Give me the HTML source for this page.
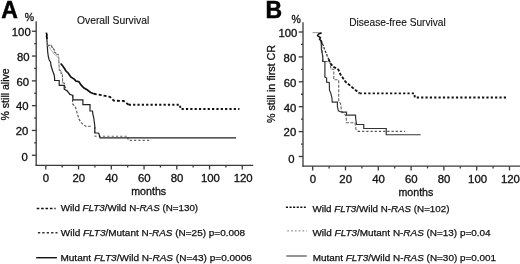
<!DOCTYPE html>
<html><head><meta charset="utf-8"><title>Survival curves</title>
<style>
html,body{margin:0;padding:0;background:#fff;}
body{width:520px;height:264px;overflow:hidden;}
svg{display:block;will-change:transform;}
text{font-family:"Liberation Sans",sans-serif;fill:#111;stroke:#111;stroke-width:0.3;}
.big{font-size:23px;font-weight:bold;fill:#000;stroke:#000;stroke-width:0.5;}
.pc{font-size:10.5px;}
.ttl{font-size:11px;stroke-width:0.12;}
.yl{font-size:10.5px;}
.tk{font-size:10.6px;}
.lg{font-size:9.3px;stroke:#111;stroke-width:0.25;}
.ax{stroke:#3a3a3a;stroke-width:1.3;fill:none;}
.c{fill:none;stroke-linejoin:miter;}
</style></head>
<body>
<svg width="520" height="264" viewBox="0 0 520 264">
<text x="1.3" y="17.9" class="big">A</text>
<text x="265.6" y="18.2" class="big">B</text>
<text x="24.8" y="21.3" class="pc">%</text>
<text x="291.6" y="22.6" class="pc">%</text>
<text x="77" y="24.2" class="ttl" textLength="72.2" lengthAdjust="spacingAndGlyphs">Overall Survival</text>
<text x="349.2" y="26" class="ttl" textLength="96.6" lengthAdjust="spacingAndGlyphs">Disease-free Survival</text>
<text transform="translate(9.1,94.4) rotate(-90)" class="yl" text-anchor="middle" textLength="52" lengthAdjust="spacingAndGlyphs">% still alive</text>
<text transform="translate(275.4,84) rotate(-90)" class="yl" text-anchor="middle" textLength="78" lengthAdjust="spacingAndGlyphs">% still in first CR</text>
<line x1="36.2" y1="21.2" x2="36.2" y2="165.9" class="ax"/>
<line x1="35.6" y1="165.3" x2="253.2" y2="165.3" class="ax"/>
<line x1="31.9" y1="31.25" x2="36.2" y2="31.25" class="ax"/>
<text x="30.7" y="36.05" class="tk" text-anchor="end" textLength="18.9" lengthAdjust="spacingAndGlyphs">100</text>
<line x1="34.2" y1="43.65" x2="36.2" y2="43.65" class="ax"/>
<line x1="31.9" y1="56.05" x2="36.2" y2="56.05" class="ax"/>
<text x="29.6" y="60.85" class="tk" text-anchor="end" textLength="12.6" lengthAdjust="spacingAndGlyphs">80</text>
<line x1="34.2" y1="68.45" x2="36.2" y2="68.45" class="ax"/>
<line x1="31.9" y1="80.85" x2="36.2" y2="80.85" class="ax"/>
<text x="29" y="85.65" class="tk" text-anchor="end" textLength="12.6" lengthAdjust="spacingAndGlyphs">60</text>
<line x1="34.2" y1="93.25" x2="36.2" y2="93.25" class="ax"/>
<line x1="31.9" y1="105.65" x2="36.2" y2="105.65" class="ax"/>
<text x="28.6" y="110.45" class="tk" text-anchor="end" textLength="12.6" lengthAdjust="spacingAndGlyphs">40</text>
<line x1="34.2" y1="118.05" x2="36.2" y2="118.05" class="ax"/>
<line x1="31.9" y1="130.45" x2="36.2" y2="130.45" class="ax"/>
<text x="28.4" y="135.25" class="tk" text-anchor="end" textLength="12.6" lengthAdjust="spacingAndGlyphs">20</text>
<line x1="34.2" y1="142.85" x2="36.2" y2="142.85" class="ax"/>
<line x1="31.9" y1="155.25" x2="36.2" y2="155.25" class="ax"/>
<text x="27.9" y="161.35" class="tk" text-anchor="end" textLength="6.3" lengthAdjust="spacingAndGlyphs">0</text>
<line x1="45.8" y1="165.3" x2="45.8" y2="169.5" class="ax"/>
<text x="46" y="181.9" class="tk" text-anchor="middle" textLength="6.35" lengthAdjust="spacingAndGlyphs">0</text>
<line x1="62.17" y1="165.3" x2="62.17" y2="167.5" class="ax"/>
<line x1="78.55" y1="165.3" x2="78.55" y2="169.5" class="ax"/>
<text x="78.75" y="181.9" class="tk" text-anchor="middle" textLength="12.7" lengthAdjust="spacingAndGlyphs">20</text>
<line x1="94.92" y1="165.3" x2="94.92" y2="167.5" class="ax"/>
<line x1="111.3" y1="165.3" x2="111.3" y2="169.5" class="ax"/>
<text x="111.5" y="181.9" class="tk" text-anchor="middle" textLength="12.7" lengthAdjust="spacingAndGlyphs">40</text>
<line x1="127.67" y1="165.3" x2="127.67" y2="167.5" class="ax"/>
<line x1="144.05" y1="165.3" x2="144.05" y2="169.5" class="ax"/>
<text x="144.25" y="181.9" class="tk" text-anchor="middle" textLength="12.7" lengthAdjust="spacingAndGlyphs">60</text>
<line x1="160.43" y1="165.3" x2="160.43" y2="167.5" class="ax"/>
<line x1="176.8" y1="165.3" x2="176.8" y2="169.5" class="ax"/>
<text x="177" y="181.9" class="tk" text-anchor="middle" textLength="12.7" lengthAdjust="spacingAndGlyphs">80</text>
<line x1="193.18" y1="165.3" x2="193.18" y2="167.5" class="ax"/>
<line x1="209.55" y1="165.3" x2="209.55" y2="169.5" class="ax"/>
<text x="210.45" y="181.9" class="tk" text-anchor="middle" textLength="19.05" lengthAdjust="spacingAndGlyphs">100</text>
<line x1="225.93" y1="165.3" x2="225.93" y2="167.5" class="ax"/>
<line x1="242.3" y1="165.3" x2="242.3" y2="169.5" class="ax"/>
<text x="243.2" y="181.9" class="tk" text-anchor="middle" textLength="19.05" lengthAdjust="spacingAndGlyphs">120</text>
<line x1="303" y1="22.2" x2="303" y2="166.8" class="ax"/>
<line x1="302.4" y1="166.2" x2="521" y2="166.2" class="ax"/>
<line x1="298.7" y1="32" x2="303" y2="32" class="ax"/>
<text x="297.3" y="36.8" class="tk" text-anchor="end" textLength="18.9" lengthAdjust="spacingAndGlyphs">100</text>
<line x1="301" y1="44.45" x2="303" y2="44.45" class="ax"/>
<line x1="298.7" y1="56.9" x2="303" y2="56.9" class="ax"/>
<text x="296.2" y="61.7" class="tk" text-anchor="end" textLength="12.6" lengthAdjust="spacingAndGlyphs">80</text>
<line x1="301" y1="69.35" x2="303" y2="69.35" class="ax"/>
<line x1="298.7" y1="81.8" x2="303" y2="81.8" class="ax"/>
<text x="296.4" y="86.6" class="tk" text-anchor="end" textLength="12.6" lengthAdjust="spacingAndGlyphs">60</text>
<line x1="301" y1="94.25" x2="303" y2="94.25" class="ax"/>
<line x1="298.7" y1="106.7" x2="303" y2="106.7" class="ax"/>
<text x="296.4" y="111.5" class="tk" text-anchor="end" textLength="12.6" lengthAdjust="spacingAndGlyphs">40</text>
<line x1="301" y1="119.15" x2="303" y2="119.15" class="ax"/>
<line x1="298.7" y1="131.6" x2="303" y2="131.6" class="ax"/>
<text x="296.2" y="136.4" class="tk" text-anchor="end" textLength="12.6" lengthAdjust="spacingAndGlyphs">20</text>
<line x1="301" y1="144.05" x2="303" y2="144.05" class="ax"/>
<line x1="298.7" y1="156.5" x2="303" y2="156.5" class="ax"/>
<text x="294.5" y="162.6" class="tk" text-anchor="end" textLength="6.3" lengthAdjust="spacingAndGlyphs">0</text>
<line x1="312.7" y1="166.2" x2="312.7" y2="170.4" class="ax"/>
<text x="312.9" y="182.8" class="tk" text-anchor="middle" textLength="6.35" lengthAdjust="spacingAndGlyphs">0</text>
<line x1="329.1" y1="166.2" x2="329.1" y2="168.4" class="ax"/>
<line x1="345.5" y1="166.2" x2="345.5" y2="170.4" class="ax"/>
<text x="345.7" y="182.8" class="tk" text-anchor="middle" textLength="12.7" lengthAdjust="spacingAndGlyphs">20</text>
<line x1="361.9" y1="166.2" x2="361.9" y2="168.4" class="ax"/>
<line x1="378.3" y1="166.2" x2="378.3" y2="170.4" class="ax"/>
<text x="378.5" y="182.8" class="tk" text-anchor="middle" textLength="12.7" lengthAdjust="spacingAndGlyphs">40</text>
<line x1="394.7" y1="166.2" x2="394.7" y2="168.4" class="ax"/>
<line x1="411.1" y1="166.2" x2="411.1" y2="170.4" class="ax"/>
<text x="411.3" y="182.8" class="tk" text-anchor="middle" textLength="12.7" lengthAdjust="spacingAndGlyphs">60</text>
<line x1="427.5" y1="166.2" x2="427.5" y2="168.4" class="ax"/>
<line x1="443.9" y1="166.2" x2="443.9" y2="170.4" class="ax"/>
<text x="444.1" y="182.8" class="tk" text-anchor="middle" textLength="12.7" lengthAdjust="spacingAndGlyphs">80</text>
<line x1="460.3" y1="166.2" x2="460.3" y2="168.4" class="ax"/>
<line x1="476.7" y1="166.2" x2="476.7" y2="170.4" class="ax"/>
<text x="477.6" y="182.8" class="tk" text-anchor="middle" textLength="19.05" lengthAdjust="spacingAndGlyphs">100</text>
<line x1="493.1" y1="166.2" x2="493.1" y2="168.4" class="ax"/>
<line x1="509.5" y1="166.2" x2="509.5" y2="170.4" class="ax"/>
<text x="510.4" y="182.8" class="tk" text-anchor="middle" textLength="19.05" lengthAdjust="spacingAndGlyphs">120</text>
<text x="131.2" y="194.7" class="tk" textLength="35" lengthAdjust="spacingAndGlyphs">months</text>
<text x="398.4" y="195.8" class="tk" textLength="35" lengthAdjust="spacingAndGlyphs">months</text>
<path d="M47.3,45.4 L51.5,45.4 L51.8,47.2 L53.2,47.4 L53.5,49.2 L54.3,49.4 L54.3,52.3 L55.6,52.5 L55.8,54.2 L58.2,54.4 L58.4,57.5 L58.8,57.7 L58.8,61.8 L59.1,66 L59.3,70.2 L60.9,70.4 L61,73.2 L62.3,73.4 L62.5,77.2 L62.6,82.9 L64.5,83.2 L64.6,86" class="c" stroke="#666" stroke-width="1.1" stroke-dasharray="3.2 0.9"/>
<path d="M64.6,86 L67.4,91.1 L69.8,94.2 L72.6,95.4 L72.6,99.9 L72.5,103.7 L75.5,107.4 L76.5,110.5 L77.7,115 L78.9,118.9 L81.1,122.6 L85.7,126.2 L91.2,126.2" class="c" stroke="#555" stroke-width="1.15" stroke-dasharray="2.6 1.6"/>
<path d="M94.9,127 L95,136.2 L127.5,136.2 L128.3,140.3 L151.4,140.3" class="c" stroke="#666" stroke-width="1.15" stroke-dasharray="2.2 2.1"/>
<path d="M46.5,33 L47.3,46 L47.7,52 L48.3,56.3 L49.2,60 L50.5,62 L51.1,66 L52.6,70.8 L54.2,75 L54.6,78 L54.6,80.5 L59.2,80.5 L59.2,85.4 L64.2,85.4 L64.2,89.1 L67.4,91.1 L69.8,94.2 L72.9,95.4 L72.9,99.9 L82.9,99.9 L82.9,104.6 L90,104.6 L90,111 L92.5,111 L92.8,114 L93.7,117.7 L94.3,122 L94.8,126 L94.8,132.8 L98.8,133.2 L100,137.8 L236,137.8" class="c" stroke="#222" stroke-width="1.2"/>
<path d="M47.3,45.4 L49,47 L51.5,50.5 L53.5,53.5 L55.5,55.2 L57.5,56.5 L58.6,58 L59,62 L60.6,63.6" class="c" stroke="#aaa" stroke-width="0.9"/>
<path d="M60.6,63.6 L61.5,64.3 L64,67.7 L65.8,70.8 L68.3,73.2 L70.8,76.9 L74.5,79.4 L75.8,81.1 L78.9,81.7 L81.4,85.4 L84,88 L87.1,89.8 L90.6,92.5 L93.75,93.75" class="c" stroke="#111" stroke-width="1.7"/>
<path d="M93.75,93.75 L99.8,94.8 L103.75,95.6 L110,96.9 L113.75,100.6 L123.75,101 L128.75,104.8" class="c" stroke="#111" stroke-width="1.8" stroke-dasharray="3 2"/>
<path d="M128.75,104.8 L180,104.8 L180.5,109 L239.4,109" class="c" stroke="#111" stroke-width="1.9" stroke-dasharray="2.2 2.15"/>
<path d="M46.3,32.6 L46.9,35 L46.5,36.5 L47.2,39" class="c" stroke="#000" stroke-width="1.6"/>
<path d="M321.2,41 L322.5,56 L322.8,61.5 L329.8,61.5 L331,69.2 L333.8,69.2 L333.8,79.8 L338.7,79.8 L338.7,101.5 L340.6,103.5 L341.5,111.2 L346.3,116 L346.3,122.7 L355,122.7 L356,129.4 L357.9,131.3" class="c" stroke="#666" stroke-width="1.1" stroke-dasharray="3 1.5"/>
<path d="M357.9,131.3 L405,131.3" class="c" stroke="#555" stroke-width="1.2" stroke-dasharray="2.2 2"/>
<path d="M321.2,41 L321.4,49.4 L322.8,56 L322.8,61.5 L324.9,61.5 L324.9,77.1 L326.6,78 L326.6,82.2 L329.3,82.5 L329.5,90.2 L330.8,93.2 L332,98.2 L332.2,102.2 L337.4,102.2 L337.4,106.5 L338.4,110.9 L341.5,112.2 L346.5,112.2 L346.5,115.2 L355.5,115.2 L355.7,119 L356.6,124.5 L363.75,124.5 L363.75,128.5 L386.25,128.5 L386.25,134.75 L420.6,134.75" class="c" stroke="#333" stroke-width="1.2"/>
<path d="M312.5,32.6 L321.7,32.6" class="c" stroke="#999" stroke-width="1"/>
<path d="M321.6,33 L318.4,34 L317.6,35.8 L320.4,37.6 L319.6,39.4 L321.2,41 L322.2,43.8" class="c" stroke="#111" stroke-width="1.5"/>
<path d="M322.2,43.8 L323.4,45.4 L324.6,50 L326.5,53.4 L327,55.5 L328.6,59.1" class="c" stroke="#222" stroke-width="1.2" stroke-dasharray="2.4 1.4"/>
<path d="M328.6,59.1 L330.2,63.2 L333.5,66.8 L338.4,69.6 L340.2,74 L345.4,81.7 L351.2,86.5 L357,91.3 L359.6,93.4" class="c" stroke="#111" stroke-width="1.8" stroke-dasharray="3 1.6"/>
<path d="M359.6,93.4 L414.4,93.4 L414.8,97.5 L507.5,97.5" class="c" stroke="#111" stroke-width="1.9" stroke-dasharray="2.2 2.15"/>
<line x1="36.7" y1="208.6" x2="55.6" y2="208.6" stroke="#111" stroke-width="1.5" stroke-dasharray="2.6 1.8"/><text x="60.8" y="211" class="lg" textLength="137.3" lengthAdjust="spacingAndGlyphs">Wild <tspan font-style="italic">FLT3</tspan>/Wild N-<tspan font-style="italic">RAS</tspan> (N=130)</text>
<line x1="37.9" y1="232.8" x2="57.5" y2="232.8" stroke="#333" stroke-width="1.4" stroke-dasharray="2.3 2.1"/><text x="60.8" y="236.2" class="lg" textLength="184.3" lengthAdjust="spacingAndGlyphs">Wild <tspan font-style="italic">FLT3</tspan>/Mutant N-<tspan font-style="italic">RAS</tspan> (N=25) p=0.008</text>
<line x1="36.2" y1="257.7" x2="56.9" y2="257.7" stroke="#111" stroke-width="1.4"/><text x="60.4" y="261.2" class="lg" textLength="191.5" lengthAdjust="spacingAndGlyphs">Mutant <tspan font-style="italic">FLT3</tspan>/Wild N-<tspan font-style="italic">RAS</tspan> (N=43) p=0.0006</text>
<line x1="285.9" y1="207.2" x2="305.8" y2="207.2" stroke="#111" stroke-width="1.5" stroke-dasharray="2.1 1.5"/><text x="312.5" y="211.7" class="lg" textLength="136.9" lengthAdjust="spacingAndGlyphs">Wild <tspan font-style="italic">FLT3</tspan>/Wild N-<tspan font-style="italic">RAS</tspan> (N=102)</text>
<line x1="287.2" y1="230.8" x2="306.9" y2="230.8" stroke="#999" stroke-width="1.3" stroke-dasharray="1.8 2"/><text x="312.5" y="236.3" class="lg" textLength="178.1" lengthAdjust="spacingAndGlyphs">Wild <tspan font-style="italic">FLT3</tspan>/Mutant N-<tspan font-style="italic">RAS</tspan> (N=13) p=0.04</text>
<line x1="286.2" y1="256" x2="306.8" y2="256" stroke="#666" stroke-width="1.4"/><text x="312.7" y="260.5" class="lg" textLength="183.4" lengthAdjust="spacingAndGlyphs">Mutant <tspan font-style="italic">FLT3</tspan>/Wild N-<tspan font-style="italic">RAS</tspan> (N=30) p=0.001</text>
</svg>
</body></html>
